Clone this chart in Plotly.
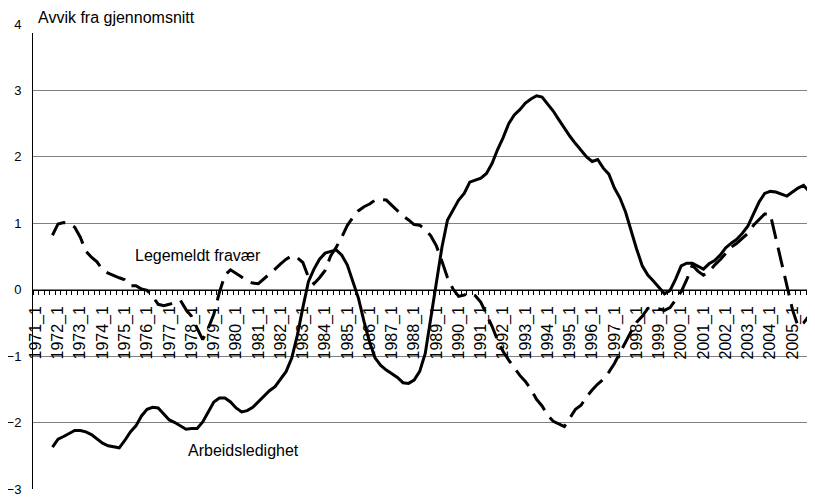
import plotly.graph_objects as go

# Quarter categories 1971_1 .. 2006_1
years = list(range(1971, 2007))
quarters = [f"{y}_{q}" for y in years for q in (1, 2, 3, 4)][:141]
tick_labels = [f"{y}_1" for y in years]

start_index = 3  # series start at 1971_4

arbeidsledighet = [
    -2.37, -2.25, -2.21, -2.17, -2.12, -2.12, -2.14, -2.18, -2.25, -2.31,
    -2.35, -2.37, -2.38, -2.27, -2.14, -2.05, -1.90, -1.80, -1.77, -1.78,
    -1.87, -1.96, -2.00, -2.05, -2.10, -2.09, -2.09, -1.99, -1.84, -1.69,
    -1.63, -1.63, -1.69, -1.78, -1.84, -1.82, -1.77, -1.69, -1.60, -1.52,
    -1.46, -1.35, -1.23, -1.03, -0.69, -0.27, 0.12, 0.31, 0.46, 0.55,
    0.58, 0.60, 0.52, 0.37, 0.12, -0.13, -0.48, -0.79, -1.03, -1.14,
    -1.21, -1.26, -1.32, -1.40, -1.41, -1.36, -1.23, -0.96, -0.43, 0.16,
    0.64, 1.05, 1.20, 1.35, 1.45, 1.62, 1.65, 1.68, 1.75, 1.90,
    2.11, 2.29, 2.50, 2.63, 2.71, 2.81, 2.87, 2.92, 2.90, 2.80,
    2.69, 2.56, 2.43, 2.31, 2.20, 2.10, 2.00, 1.93, 1.96, 1.83,
    1.74, 1.53, 1.38, 1.17, 0.88, 0.61, 0.36, 0.22, 0.13, 0.03,
    -0.06, -0.01, 0.16, 0.36, 0.40, 0.40, 0.36, 0.31, 0.39, 0.44,
    0.52, 0.63, 0.70, 0.76, 0.85, 0.96, 1.14, 1.32, 1.45, 1.48,
    1.47, 1.44, 1.41, 1.47, 1.53, 1.57, 1.48, 1.25,
]

legemeldt_fravaer = [
    0.82, 0.99, 1.01, 1.00, 0.94, 0.79, 0.58, 0.49, 0.42, 0.30,
    0.25, 0.21, 0.18, 0.15, 0.06, 0.06, 0.01, -0.01, -0.10, -0.22,
    -0.24, -0.22, -0.19, -0.16, -0.30, -0.40, -0.58, -0.75, -0.58, -0.37,
    -0.04, 0.22, 0.30, 0.25, 0.19, 0.13, 0.10, 0.09, 0.16, 0.23,
    0.31, 0.39, 0.46, 0.51, 0.48, 0.41, 0.19, 0.09, 0.18, 0.29,
    0.51, 0.64, 0.79, 0.97, 1.09, 1.19, 1.25, 1.29, 1.35, 1.36,
    1.35, 1.27, 1.19, 1.11, 1.05, 0.98, 0.97, 0.91, 0.81, 0.66,
    0.43, 0.18, 0.01, -0.10, -0.08, -0.05, -0.09, -0.19, -0.37, -0.55,
    -0.76, -0.93, -1.06, -1.18, -1.29, -1.38, -1.50, -1.65, -1.75, -1.89,
    -1.98, -2.02, -2.06, -1.93, -1.80, -1.74, -1.61, -1.51, -1.42, -1.35,
    -1.24, -1.11, -0.96, -0.79, -0.63, -0.49, -0.40, -0.28, -0.27, -0.29,
    -0.31, -0.27, -0.15, -0.03, 0.15, 0.37, 0.28, 0.22, 0.27, 0.37,
    0.45, 0.55, 0.64, 0.70, 0.77, 0.85, 0.97, 1.06, 1.14, 1.14,
    0.79, 0.43, 0.06, -0.30, -0.55, -0.50, -0.39, -0.30,
]

FONT = "Liberation Sans, Arial, sans-serif"

x_arb = list(range(start_index, start_index + len(arbeidsledighet)))
x_fra = list(range(start_index, start_index + len(legemeldt_fravaer)))

fig = go.Figure()
fig.add_trace(go.Scatter(
    x=x_fra, y=legemeldt_fravaer, mode="lines", name="Legemeldt fravær",
    text=[quarters[i] for i in x_fra], hoverinfo="text+y",
    line=dict(color="black", width=3, dash="20px,9px"),
))
fig.add_trace(go.Scatter(
    x=x_arb, y=arbeidsledighet, mode="lines", name="Arbeidsledighet",
    text=[quarters[i] for i in x_arb], hoverinfo="text+y",
    line=dict(color="black", width=3),
))

tickvals = [quarters.index(t) for t in tick_labels if t in quarters]
ticktext = [quarters[v] for v in tickvals]

# page body adds an 8px offset; size the figure so the plot area lands
# at window x 33..815 and y 24..489
W, H = 807, 489
ML, MT, MB = 25, 16, 8
PW, PH = W - ML, H - MT - MB

fig.update_layout(
    width=W, height=H,
    margin=dict(l=ML, r=0, t=MT, b=MB),
    paper_bgcolor="white", plot_bgcolor="white",
    showlegend=False,
    font=dict(family=FONT, color="black", size=13),
    xaxis=dict(
        range=[-0.5, 140.05],
        anchor="free", position=3 / 7,
        showline=True, linecolor="black", linewidth=1,
        showgrid=False, zeroline=False,
        tickmode="array", tickvals=tickvals, ticktext=ticktext,
        tickangle=-90, ticks="", ticklabelstandoff=9,
        tickfont=dict(size=16, family=FONT, color="black"),
        minor=dict(ticks="outside", tick0=-0.5, dtick=1, ticklen=4,
                   tickcolor="black", tickwidth=1, showgrid=False),
    ),
    yaxis=dict(
        range=[-3, 4], dtick=1, tick0=0,
        showline=True, linecolor="black", linewidth=1,
        showgrid=True, gridcolor="#808080", gridwidth=1,
        zeroline=False, ticks="",
        tickfont=dict(size=13, family=FONT, color="black"),
        ticklabelstandoff=8,
    ),
    shapes=[
        dict(type="rect", xref="paper", yref="paper",
             x0=-0.012, x1=(207 - 33) / PW, y0=1 - 9 / PH, y1=1.04,
             fillcolor="white", line=dict(width=0), layer="above"),
    ],
    annotations=[
        dict(text="Avvik fra gjennomsnitt", xref="paper", yref="paper",
             x=(36 - 33) / PW, y=1 + 6 / PH, xanchor="left", yanchor="middle",
             showarrow=False, font=dict(size=16, family=FONT, color="black")),
        dict(text="Legemeldt fravær", xref="x", yref="y",
             x=17.5, y=0.52, xanchor="left", yanchor="middle",
             showarrow=False, font=dict(size=16, family=FONT, color="black")),
        dict(text="Arbeidsledighet", xref="x", yref="y",
             x=27.0, y=-2.42, xanchor="left", yanchor="middle",
             showarrow=False, font=dict(size=16, family=FONT, color="black")),
    ],
)

fig.write_html("out.html")
